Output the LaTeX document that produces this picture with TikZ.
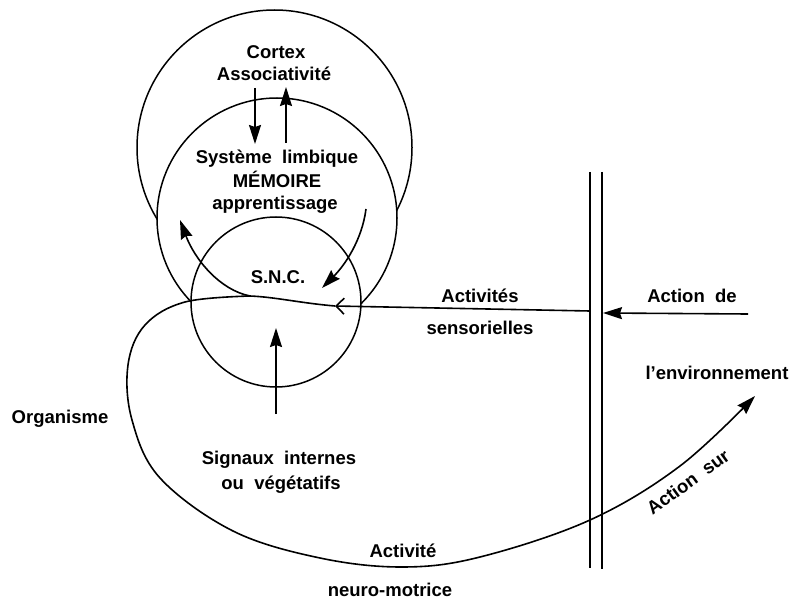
\documentclass[tikz,border=0pt]{standalone}
\usepackage{fontspec}
\setmainfont{Liberation Sans}
\usetikzlibrary{arrows.meta}
\begin{document}
\begin{tikzpicture}[x=1pt,y=-1pt,
  lbl/.style={font=\fontsize{18.5}{20}\selectfont\bfseries, inner sep=0pt, text height=13pt, text depth=0pt},
  ring/.style={circle, draw, fill=white, line width=1.5pt, inner sep=0pt},
  ln/.style={line width=1.6pt},
  tri/.style={-{Stealth[length=19pt,width=12pt,inset=2pt]}},
  barb/.style={-{Straight Barb[length=8pt,width=16pt]}}]
\useasboundingbox (0,0) rectangle (796,599);

% circles
\node[ring, minimum size=275pt] (cortex) at (274.5,147.5) {};
\node[ring, minimum size=240pt] (limb) at (277,218) {};
\node[ring, minimum size=170pt] (snc) at (276,302) {};

% double wall
\coordinate (w1t) at (590,172); \coordinate (w1b) at (590,568);
\coordinate (w2t) at (602,172); \coordinate (w2b) at (602,569);
\draw[line width=1.8pt] (w1t) -- (w1b);
\draw[line width=1.8pt] (w2t) -- (w2b);

% labels
\node[lbl] (tcortex) at (276,52) {Cortex};
\node[lbl] (tassoc) at (274,74) {Associativité};
\node[lbl] (tsys) at (277,157) {Système\ \ limbique};
\node[lbl] (tmem) at (277,181) {MÉMOIRE};
\node[lbl] (tapp) at (275,203) {apprentissage};
\node[lbl] (tsnc) at (278,277) {S.N.C.};
\node[lbl] (tact) at (480,296) {Activités};
\node[lbl] (tsens) at (480,328) {sensorielles};
\node[lbl] (tactde) at (692,296) {Action\ \ de};
\node[lbl] (tenv) at (717,373) {l'environnement};
\node[lbl] (torg) at (60,417) {Organisme};
\node[lbl] (tsig) at (279,458) {Signaux\ \ internes};
\node[lbl] (tveg) at (281,483) {ou\ \ végétatifs};
\node[lbl] (tactiv) at (403,551) {Activité};
\node[lbl] (tneuro) at (390,590) {neuro-motrice};
\node[lbl, rotate=36] (tsur) at (688,482) {Action\ \ sur};

% cortex <-> limbic arrows
\coordinate (cd1) at (255,88); \coordinate (cd2) at (255,144);
\coordinate (cu1) at (286,143); \coordinate (cu2) at (286,87);
\draw[ln,tri] (cd1) -- (cd2);
\draw[ln,tri] (cu1) -- (cu2);

% limbic -> SNC
\coordinate (ls1) at (366,209); \coordinate (ls2) at (322,288);
\draw[ln,tri] (ls1) .. controls (362,240) and (345,265) .. (ls2);

% internal signals
\coordinate (sg1) at (276,414); \coordinate (sg2) at (276,328);
\draw[ln,tri] (sg1) -- (sg2);

% action of environment
\coordinate (ae1) at (748,314); \coordinate (ae2) at (603,313);
\draw[ln,tri] (ae1) -- (ae2);

% sensory line
\coordinate (sensIn) at (590,311);
\coordinate (chev) at (335,306);
\coordinate (junc) at (250,296);
\coordinate (upl) at (180,220);
\coordinate (asur) at (755,396);
\draw[ln,barb] (sensIn) -- (chev);
\draw[ln] (chev) .. controls (300,303) and (275,297) .. (junc);
\draw[ln,tri] (junc) .. controls (220,290) and (195,260) .. (upl);

% big loop
\draw[ln,tri] plot[smooth, tension=0.6] coordinates {(junc) (185,302) (145,325) (128,365) (132,420) (160,478) (233,531) (320,558) (403,567) (480,557) (590,520) (680,466) (asur)};
\end{tikzpicture}
\end{document}
